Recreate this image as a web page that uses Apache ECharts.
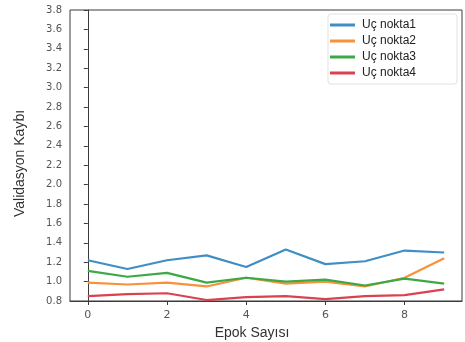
<!DOCTYPE html>
<html>
<head>
<meta charset="utf-8">
<script src="https://cdn.jsdelivr.net/npm/echarts@6/dist/echarts.min.js"></script>
<style>
  html, body { margin: 0; padding: 0; background: #fff; }
  #chart { width: 465px; height: 342px; }
</style>
</head>
<body>
<div id="chart"></div>
<script>
// Validation loss per epoch for four end points
const epochs = [0, 1, 2, 3, 4, 5, 6, 7, 8, 9];
const seriesNames = ['Uç nokta1', 'Uç nokta2', 'Uç nokta3', 'Uç nokta4'];
const nokta1 = [1.22, 1.13, 1.22, 1.27, 1.15, 1.33, 1.18, 1.21, 1.32, 1.30];
const nokta2 = [0.99, 0.97, 0.99, 0.95, 1.04, 0.98, 1.00, 0.95, 1.04, 1.24];
const nokta3 = [1.11, 1.05, 1.09, 0.99, 1.04, 1.00, 1.02, 0.96, 1.03, 0.98];
const nokta4 = [0.85, 0.87, 0.88, 0.81, 0.84, 0.85, 0.82, 0.85, 0.86, 0.92];
const xTickValues = [0, 2, 4, 6, 8];
const colors = ['#3f8ec4', '#f7923a', '#3ca946', '#d9434f'];

const values = [nokta1, nokta2, nokta3, nokta4];
const tickFont = 'DejaVu Sans';
const textFont = 'Liberation Sans';

const chart = echarts.init(document.getElementById('chart'), null, { renderer: 'canvas' });
chart.setOption({
  animation: false,
  backgroundColor: '#ffffff',
  color: colors,
  grid: {
    left: 70, right: 3, top: 10, bottom: 41,
    outerBoundsMode: 'none',
    containLabel: false,
    show: true, borderColor: '#3a3a3a', borderWidth: 1, backgroundColor: 'transparent'
  },
  legend: {
    data: seriesNames,
    orient: 'vertical',
    right: 8, top: 14,
    itemWidth: 25, itemHeight: 3, itemGap: 4,
    icon: 'rect',
    padding: [5, 41, 5, 2],
    backgroundColor: '#fff',
    borderColor: '#e2e2e2', borderWidth: 1, borderRadius: 3,
    textStyle: { fontFamily: textFont, fontSize: 12, color: '#222', padding: [0, 0, 0, 2] }
  },
  xAxis: {
    type: 'value',
    min: -0.45, max: 9.45,
    name: 'Epok Sayısı',
    nameLocation: 'middle',
    nameGap: 21,
    nameTextStyle: { fontFamily: textFont, fontSize: 14, color: '#333', padding: [0, 28, 0, 0] },
    axisLine: { show: true, onZero: false, lineStyle: { color: '#3a3a3a' } },
    axisTick: { show: true, inside: false, length: 4, customValues: xTickValues, lineStyle: { color: '#3a3a3a' } },
    axisLabel: { customValues: xTickValues, fontFamily: tickFont, fontSize: 11, color: '#555', margin: 9 },
    splitLine: { show: false }
  },
  yAxis: {
    type: 'value',
    min: 0.8, max: 3.8, interval: 0.2,
    name: 'Validasyon Kaybı',
    nameLocation: 'middle',
    nameGap: 43,
    nameTextStyle: { fontFamily: textFont, fontSize: 14, color: '#333', padding: [0, 16, 0, 0] },
    axisLine: { show: true, lineStyle: { color: '#3a3a3a' } },
    axisTick: { show: true, length: 4, lineStyle: { color: '#3a3a3a' } },
    axisLabel: {
      fontFamily: tickFont, fontSize: 10, color: '#555', margin: 8,
      formatter: v => v.toFixed(1)
    },
    splitLine: { show: false }
  },
  series: seriesNames.map((name, i) => ({
    name: name,
    type: 'line',
    data: epochs.map((e, j) => [e, values[i][j]]),
    showSymbol: false,
    symbol: 'none',
    lineStyle: { width: 2.2, color: colors[i] },
    itemStyle: { color: colors[i] }
  }))
});
</script>
</body>
</html>
